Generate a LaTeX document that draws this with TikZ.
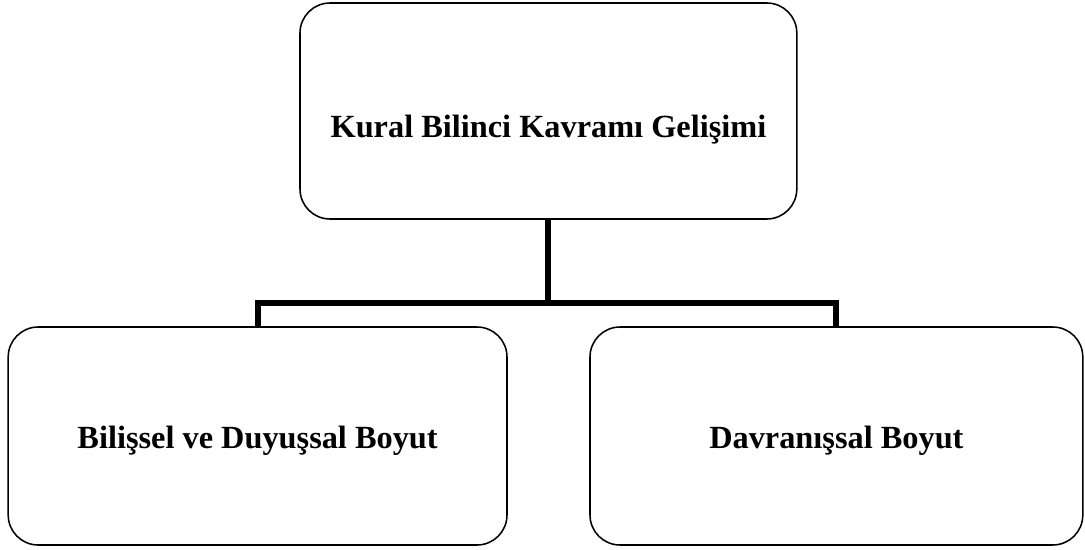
\documentclass[tikz,border=0pt]{standalone}
\usepackage{fontspec}
\setmainfont{Liberation Serif}
\begin{document}
\begin{tikzpicture}[font=\bfseries\fontsize{23}{27}\selectfont]
	\tikzset{box/.style={draw, rounded corners=0.75cm, line width=1.1pt, align=center, minimum height=5.45cm, text depth=0.15cm},
	link/.style={line width=4.3pt, line join=miter}}
	\useasboundingbox (0,0) rectangle (27.125,13.725);

	%boxes
	\node[box, minimum width=12.42cm, minimum height=5.4cm, text height=1.45cm] (kural) at (13.71,10.95) {Kural Bilinci Kavramı Gelişimi}; %top
	\node[box, minimum width=12.47cm, text height=0.75cm] (bilissel) at (6.44,2.825) {Bilişsel ve Duyuşsal Boyut}; %left
	\node[box, minimum width=12.32cm, text height=0.75cm] (davranis) at (20.91,2.825) {Davranışsal Boyut}; %right

	%connectors
	\coordinate (bar) at (13.71,6.15);
	\draw[link] (kural.south) -- (bar) -| (bilissel.north);
	\draw[link] (bar) -| (davranis.north);
\end{tikzpicture}
\end{document}
